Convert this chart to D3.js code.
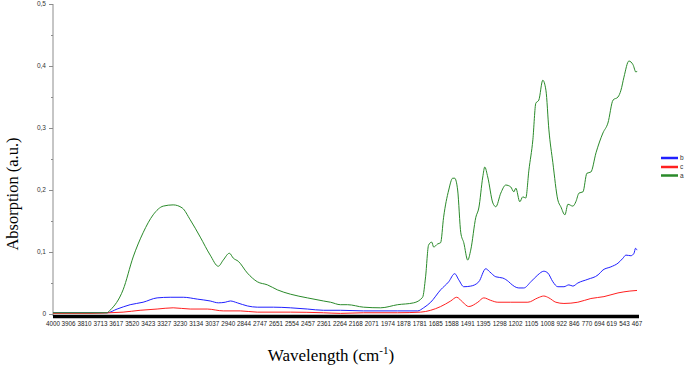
<!DOCTYPE html>
<html><head><meta charset="utf-8">
<script src="https://cdn.jsdelivr.net/npm/d3@7"></script>
<style>body{margin:0;background:#fff}svg{display:block}</style>
</head><body>
<script>
// ---- data ----
const xTickLabels = [4000,3906,3810,3713,3617,3520,3423,3327,3230,3134,3037,2940,2844,2747,2651,2554,2457,2361,2264,2168,2071,1974,1878,1781,1685,1588,1491,1395,1298,1202,1105,1008,922,846,770,694,619,543,467];
const yTickValues = [0,0.1,0.2,0.3,0.4,0.5];
const seriesNames = ["b","c","a"];
const seriesColors = ["#2020ff","#ff2020","#2a8a2a"];

const aWave = [4000,3776,3673,3655,3576,3515,3455,3394,3333,3273,3218,3170,3109,3049,3000,2970,2933,2909,2879,2824,2764,2703,2643,2564,2461,2364,2321,2261,2218,2121,2018,1915,1818,1764,1746,1728,1709,1697,1673,1655,1637,1606,1582,1570,1552,1533,1515,1491,1473,1442,1424,1400,1388,1370,1339,1321,1291,1261,1231,1212,1200,1176,1158,1140,1121,1097,1079,1061,1037,1018,1000,976,946,928,903,885,855,837,818,794,770,746,715,673,643,612,582,564,546,516,491,473,467];
const aAbs  = [0.002,0.002,0.002,0.006,0.039,0.092,0.131,0.160,0.174,0.176,0.171,0.152,0.124,0.095,0.077,0.087,0.098,0.090,0.085,0.066,0.052,0.047,0.039,0.032,0.026,0.021,0.019,0.015,0.015,0.011,0.010,0.015,0.018,0.027,0.060,0.111,0.116,0.108,0.113,0.115,0.156,0.200,0.219,0.219,0.200,0.131,0.115,0.087,0.103,0.156,0.171,0.221,0.237,0.221,0.179,0.173,0.195,0.208,0.205,0.197,0.203,0.181,0.189,0.187,0.232,0.281,0.340,0.345,0.377,0.361,0.297,0.244,0.184,0.173,0.160,0.177,0.174,0.181,0.195,0.197,0.227,0.229,0.260,0.292,0.308,0.345,0.350,0.361,0.382,0.408,0.402,0.390,0.392];

const bWave = [4000,3776,3673,3612,3533,3455,3370,3291,3212,3127,3049,3000,2958,2927,2885,2824,2764,2667,2564,2461,2364,2261,2121,1915,1794,1758,1715,1655,1606,1570,1545,1515,1473,1424,1382,1358,1321,1279,1243,1231,1182,1152,1109,1067,1031,1006,976,946,909,879,855,825,764,703,673,625,582,552,534,504,485,476,467];
const bAbs  = [0.002,0.002,0.002,0.008,0.015,0.019,0.026,0.027,0.027,0.024,0.021,0.018,0.019,0.021,0.018,0.013,0.011,0.011,0.010,0.008,0.006,0.006,0.005,0.005,0.005,0.010,0.019,0.039,0.052,0.065,0.055,0.044,0.045,0.052,0.073,0.068,0.060,0.058,0.052,0.049,0.042,0.042,0.052,0.063,0.069,0.066,0.052,0.044,0.044,0.047,0.045,0.050,0.056,0.063,0.071,0.076,0.082,0.090,0.095,0.094,0.098,0.106,0.103];

const cWave = [4000,3776,3655,3576,3473,3370,3273,3170,3067,2970,2867,2764,2564,2364,2261,2121,1915,1776,1715,1655,1594,1558,1521,1485,1430,1394,1352,1309,1231,1127,1067,1031,1000,958,909,825,746,667,582,510,467];
const cAbs  = [0.001,0.001,0.002,0.003,0.006,0.008,0.010,0.008,0.008,0.005,0.005,0.003,0.003,0.002,0.001,0.002,0.002,0.003,0.006,0.012,0.021,0.027,0.019,0.012,0.019,0.026,0.022,0.019,0.019,0.019,0.026,0.029,0.026,0.019,0.017,0.019,0.025,0.028,0.034,0.037,0.038];

// ---- chart ----
const W = 685, H = 368;
const svg = d3.select("body").append("svg").attr("width", W).attr("height", H);

const x = d3.scaleLinear().domain([4000, 467]).range([53, 637]);
const y = d3.scaleLinear().domain([0, 0.5]).range([314, 4]);

// y axis
const yAxisG = svg.append("g").attr("transform", "translate(53,0)");
yAxisG.append("line").attr("x1",0).attr("x2",0).attr("y1",y(0.5)).attr("y2",y(0)+2)
  .attr("stroke","#8c8c8c").attr("stroke-width",1);
const minor = d3.range(0, 0.5001, 0.05);
yAxisG.selectAll("line.mt").data(minor).join("line").attr("class","mt")
  .attr("x1", (d,i) => i%2===0 ? -4 : -2).attr("x2",0)
  .attr("y1", d => y(d)+0.5).attr("y2", d => y(d)+0.5)
  .attr("stroke","#8c8c8c").attr("stroke-width",1);
yAxisG.selectAll("text").data(yTickValues).join("text")
  .attr("x",-7).attr("y", d => y(d)).attr("dy","0.35em")
  .attr("text-anchor","end")
  .attr("font-family","Liberation Sans, Arial, sans-serif").attr("font-size",6.5).attr("fill","#333")
  .text(d => d===0 ? "0" : String(d).replace(".", ","));

// series lines
const line = d3.line().x(d => x(d[0])).y(d => y(d[1])).curve(d3.curveMonotoneX);
const seriesData = [
  d3.zip(bWave, bAbs),
  d3.zip(cWave, cAbs),
  d3.zip(aWave, aAbs)
];
svg.append("g").selectAll("path").data(seriesData).join("path")
  .attr("d", line).attr("fill","none")
  .attr("stroke", (d,i) => seriesColors[i]).attr("stroke-width",1);

// x axis bar
svg.append("line").attr("x1", x(4000)).attr("x2", x(467)+2)
  .attr("y1", 316.5).attr("y2", 316.5).attr("stroke","#000").attr("stroke-width",3.5);
svg.append("g").selectAll("text").data(xTickLabels).join("text")
  .attr("x", d => x(d)).attr("y", 325.5).attr("text-anchor","middle")
  .attr("font-family","Liberation Sans, Arial, sans-serif").attr("font-size",6.3).attr("fill","#222")
  .text(d => d);

// legend
const legY = [158, 167, 175.5];
const leg = svg.append("g");
seriesNames.forEach((n,i) => {
  leg.append("line").attr("x1",661).attr("x2",678).attr("y1",legY[i]).attr("y2",legY[i])
    .attr("stroke",seriesColors[i]).attr("stroke-width",2.5);
  leg.append("text").attr("x",680).attr("y",legY[i]).attr("dy","0.35em")
    .attr("font-family","Liberation Sans, Arial, sans-serif").attr("font-size",6.5).attr("fill","#333")
    .text(n);
});

// axis titles
svg.append("text").attr("transform","translate(18,194) rotate(-90)")
  .attr("text-anchor","middle")
  .attr("font-family","Liberation Serif, Times New Roman, serif").attr("font-size",16.5).attr("fill","#000")
  .text("Absorption (a.u.)");
const xt = svg.append("text").attr("x",331).attr("y",361).attr("text-anchor","middle")
  .attr("font-family","Liberation Serif, Times New Roman, serif").attr("font-size",17).attr("fill","#000");
xt.append("tspan").text("Wavelength (cm");
xt.append("tspan").attr("dy",-7).attr("font-size",11).text("-1");
xt.append("tspan").attr("dy",7).text(")");
</script>
</body></html>
